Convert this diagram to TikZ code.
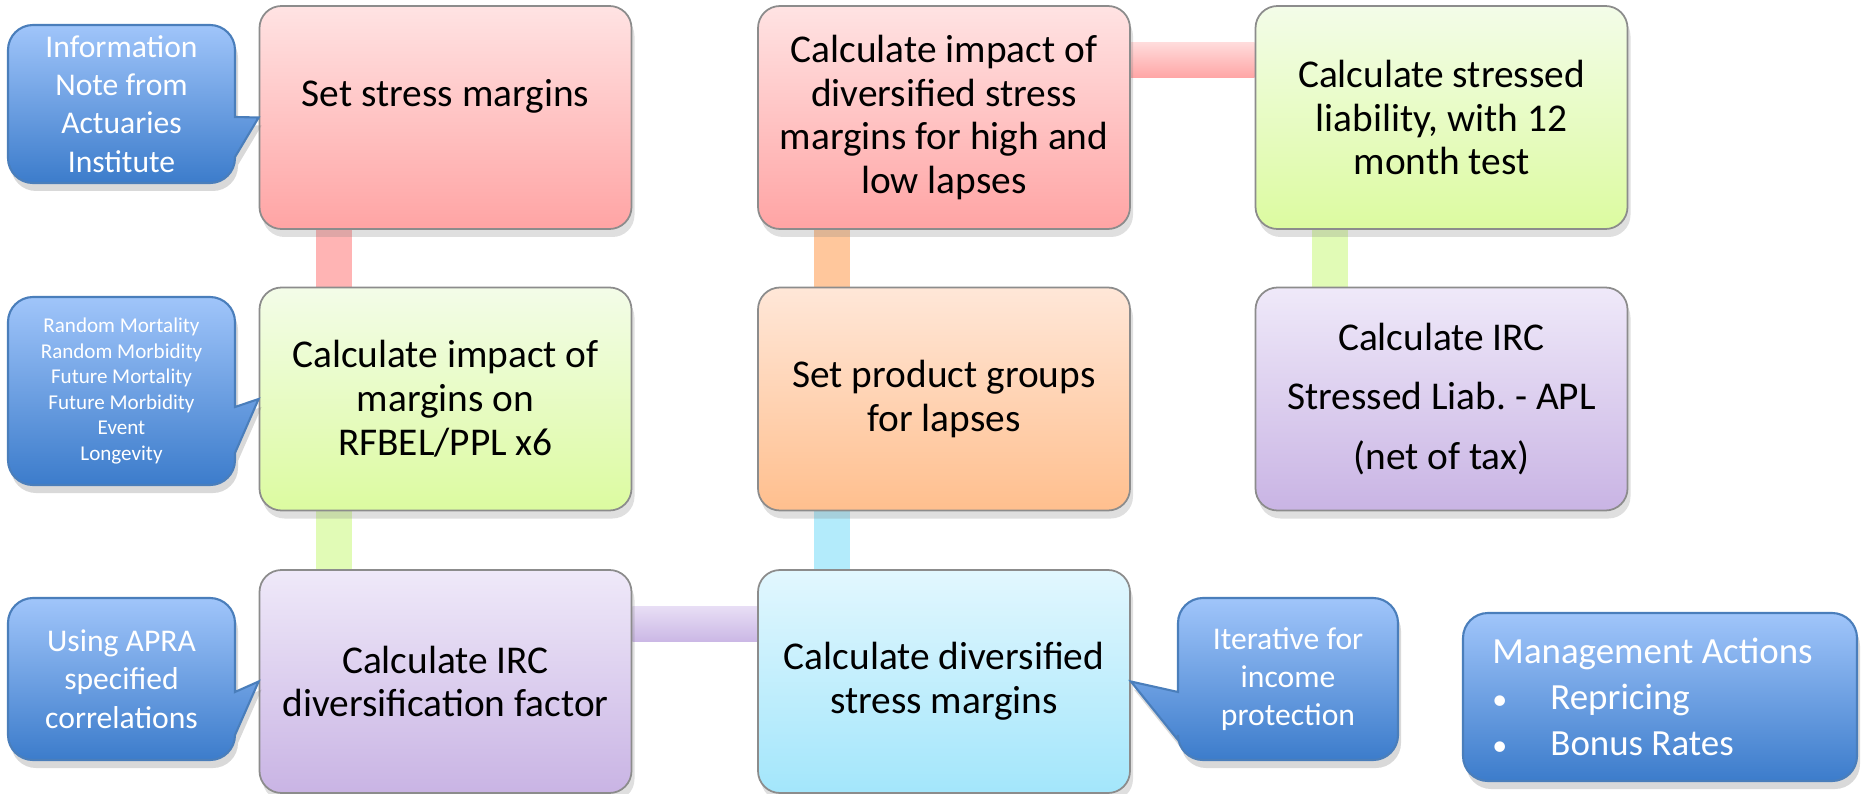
\documentclass[tikz,border=0pt]{standalone}
\usepackage{fontspec}
\setmainfont{Carlito}
\usetikzlibrary{shadows,backgrounds}
\frenchspacing

\definecolor{pinktop}{HTML}{FFE3E3}
\definecolor{pinkbot}{HTML}{FFA4A4}
\definecolor{greentop}{HTML}{F3FCE8}
\definecolor{greenbot}{HTML}{DCFBA0}
\definecolor{purpletop}{HTML}{EFE9F9}
\definecolor{purplebot}{HTML}{C9B4E4}
\definecolor{orangetop}{HTML}{FFE7D8}
\definecolor{orangebot}{HTML}{FFBF8E}
\definecolor{cyantop}{HTML}{E2F7FE}
\definecolor{cyanbot}{HTML}{A3E6FB}
\definecolor{notetop}{HTML}{A0C5FA}
\definecolor{notebot}{HTML}{3C7CCB}
\definecolor{noteline}{HTML}{4A7EBB}

\tikzset{
  stepbox/.style={draw=black!45, line width=0.5pt, rounded corners=2.2mm,
    minimum width=3.72cm, minimum height=2.23cm, align=center,
    font=\fontsize{11.2}{12.5}\selectfont,
    drop shadow={shadow xshift=0.3mm, shadow yshift=-0.8mm, opacity=0.25}},
  pinkbox/.style={stepbox, top color=pinktop, bottom color=pinkbot},
  greenbox/.style={stepbox, top color=greentop, bottom color=greenbot},
  purplebox/.style={stepbox, top color=purpletop, bottom color=purplebot},
  orangebox/.style={stepbox, top color=orangetop, bottom color=orangebot},
  cyanbox/.style={stepbox, top color=cyantop, bottom color=cyanbot},
  noteshape/.style={draw=noteline, line width=0.6pt, top color=notetop, bottom color=notebot,
    drop shadow={shadow xshift=0.3mm, shadow yshift=-0.8mm, opacity=0.3}},
  notetext/.style={text=white, align=center, font=\fontsize{9}{10.9}\selectfont}
}

\begin{document}
\begin{tikzpicture}
			\useasboundingbox (0,0) rectangle (18.62,-7.94);
			
			% process steps
			\node[pinkbox] (setmargins) at (4.455,-1.175) {Set stress margins\\[1.5pt]\mbox{}};
			\node[greenbox] (impact) at (4.455,-3.99) {Calculate impact of\\margins on\\RFBEL/PPL x6};
			\node[purplebox] (divfactor) at (4.455,-6.815) {Calculate IRC\\diversification factor};
			
			\node[pinkbox] (lapseimpact) at (9.44,-1.175) {Calculate impact of\\diversified stress\\margins for high and\\low lapses};
			\node[orangebox] (groups) at (9.44,-3.99) {Set product groups\\for lapses};
			\node[cyanbox] (divmargins) at (9.44,-6.815) {Calculate diversified\\stress margins};
			
			\node[greenbox] (stressliab) at (14.415,-1.175) {Calculate stressed\\liability, with 12\\month test};
			\node[purplebox] (ircliab) at (14.415,-3.99) {Calculate IRC\\[4.5pt]Stressed Liab. - APL\\[4.5pt](net of tax)};
			
			% bars between the steps
			\begin{scope}[on background layer]
			\fill[fill={rgb,255:red,255;green,180;blue,180}] ([xshift=5.7mm]setmargins.south west) rectangle ([xshift=9.3mm]impact.north west);
			\fill[fill={rgb,255:red,225;green,251;blue,182}] ([xshift=5.7mm]impact.south west) rectangle ([xshift=9.3mm]divfactor.north west);
			\shade[top color={rgb,255:red,232;green,222;blue,245}, bottom color={rgb,255:red,203;green,184;blue,229}] ([yshift=-3.7mm]divfactor.north east) rectangle ([yshift=-7.2mm]divmargins.north west);
			\fill[fill={rgb,255:red,179;green,235;blue,251}] ([xshift=5.7mm]divmargins.north west) rectangle ([xshift=9.3mm]groups.south west);
			\fill[fill={rgb,255:red,255;green,199;blue,156}] ([xshift=5.7mm]groups.north west) rectangle ([xshift=9.3mm]lapseimpact.south west);
			\shade[top color={rgb,255:red,255;green,220;blue,220}, bottom color={rgb,255:red,255;green,166;blue,166}] ([yshift=-3.7mm]lapseimpact.north east) rectangle ([yshift=-7.2mm]stressliab.north west);
			\fill[fill={rgb,255:red,225;green,251;blue,182}] ([xshift=5.7mm]stressliab.south west) rectangle ([xshift=9.3mm]ircliab.north west);
			\end{scope}
			
			% callouts
			\shadedraw[noteshape] (0.33,-0.25) -- (2.10,-0.25) arc[start angle=90,end angle=0,radius=0.25] -- (2.35,-1.17) -- (setmargins.west) -- (2.35,-1.57) -- (2.35,-1.58) arc[start angle=0,end angle=-90,radius=0.25] -- (0.33,-1.83) arc[start angle=270,end angle=180,radius=0.25] -- (0.08,-0.50) arc[start angle=180,end angle=90,radius=0.25] -- cycle;
			\node[notetext] (infonote) at (1.215,-1.04) {Information\\Note from\\Actuaries\\Institute};
			
			\shadedraw[noteshape] (0.33,-2.97) -- (2.10,-2.97) arc[start angle=90,end angle=0,radius=0.25] -- (2.35,-4.07) -- (impact.west) -- (2.35,-4.53) -- (2.35,-4.60) arc[start angle=0,end angle=-90,radius=0.25] -- (0.33,-4.85) arc[start angle=270,end angle=180,radius=0.25] -- (0.08,-3.22) arc[start angle=180,end angle=90,radius=0.25] -- cycle;
			\node[notetext, font=\fontsize{6}{7.3}\selectfont] (risks) at (1.215,-3.91) {Random Mortality\\Random Morbidity\\Future Mortality\\Future Morbidity\\Event\\Longevity};
			
			\shadedraw[noteshape] (0.33,-5.98) -- (2.10,-5.98) arc[start angle=90,end angle=0,radius=0.25] -- (2.35,-6.92) -- (divfactor.west) -- (2.35,-7.35) arc[start angle=0,end angle=-90,radius=0.25] -- (0.33,-7.60) arc[start angle=270,end angle=180,radius=0.25] -- (0.08,-6.23) arc[start angle=180,end angle=90,radius=0.25] -- cycle;
			\node[notetext] (apra) at (1.215,-6.79) {Using APRA\\specified\\correlations};
			
			\shadedraw[noteshape] (12.03,-5.98) -- (13.73,-5.98) arc[start angle=90,end angle=0,radius=0.25] -- (13.98,-7.35) arc[start angle=0,end angle=-90,radius=0.25] -- (12.03,-7.60) arc[start angle=270,end angle=180,radius=0.25] -- (11.78,-7.40) -- (divmargins.east) -- (11.78,-6.92) -- (11.78,-6.23) arc[start angle=180,end angle=90,radius=0.25] -- cycle;
			\node[notetext] (iterative) at (12.88,-6.79) {Iterative for\\income\\protection};
			
			\node[noteshape, notetext, rounded corners=2.5mm, minimum width=3.94cm, minimum height=1.68cm, align=left, font=\fontsize{10.5}{13}\selectfont] (mgmt) at (16.6,-6.97) {Management Actions\hspace*{0.15cm}\\\makebox[16.5pt][l]{\fontsize{8.5}{13}\selectfont\textbullet}Repricing\\\makebox[16.5pt][l]{\fontsize{8.5}{13}\selectfont\textbullet}Bonus Rates};

	\end{tikzpicture}
\end{document}
